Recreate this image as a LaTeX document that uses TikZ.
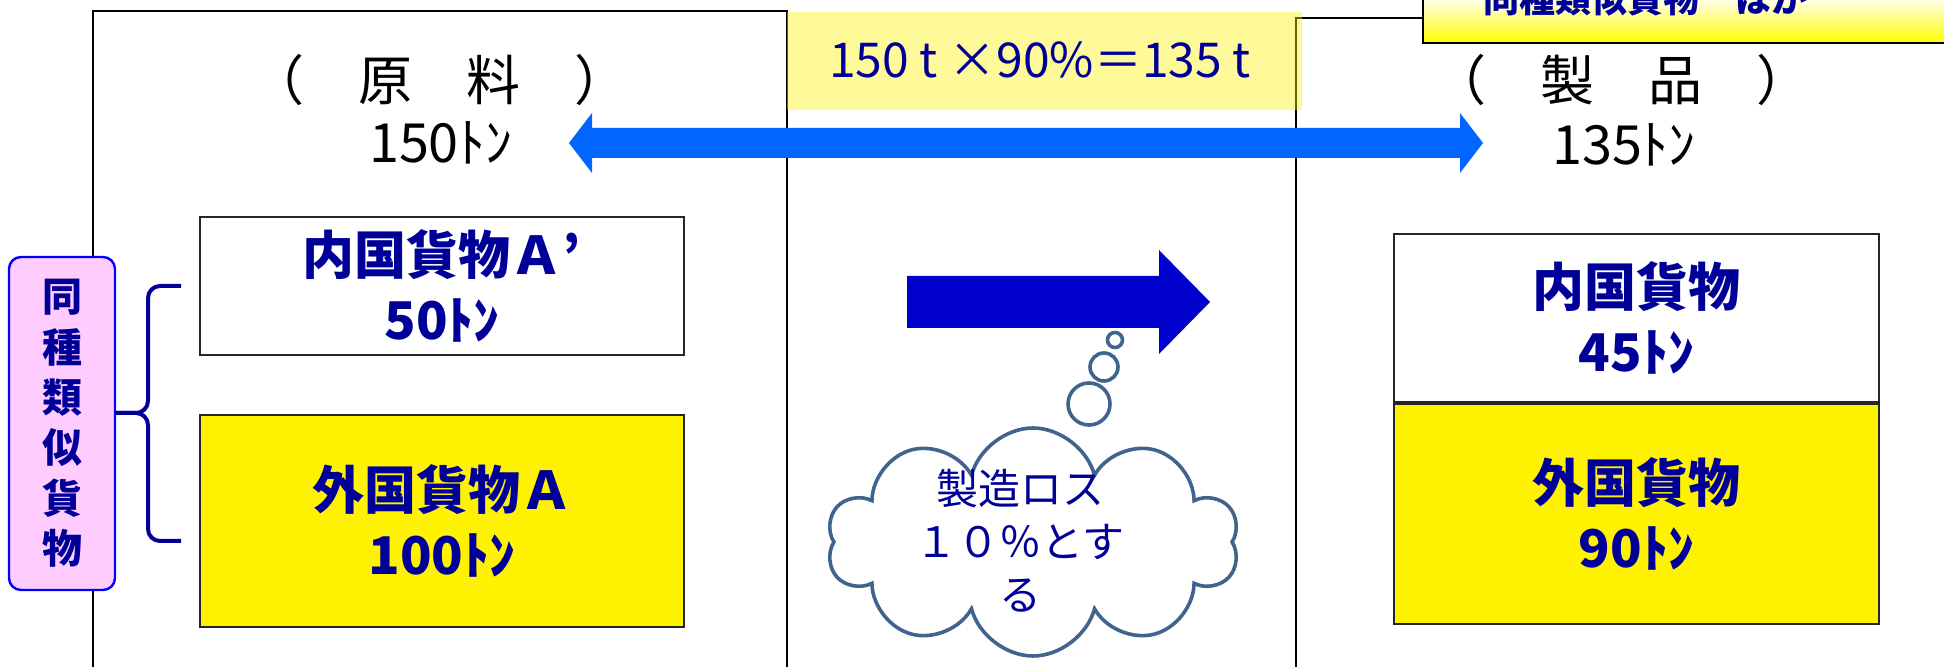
\documentclass[tikz,border=0pt]{standalone}
\usepackage{fontspec}
\setmainfont{Noto Sans CJK JP}
\usetikzlibrary{positioning,shapes.symbols}

\definecolor{navy}{HTML}{000099}
\definecolor{deepblue}{HTML}{0000CC}
\definecolor{skyblue}{HTML}{0066FF}
\definecolor{lilac}{HTML}{FFCCFF}
\definecolor{thinkline}{HTML}{41648F}

\begin{document}
\begin{tikzpicture}[x=0.5pt,y=-0.5pt,
  frame/.style={draw=black, line width=1pt},
  cargo/.style={draw=black!85, line width=1pt, minimum width=242pt, align=center, text=navy, font=\fontsize{26}{32.5}\selectfont\bfseries},
  title/.style={font=\fontsize{27}{32}\selectfont},
  brace/.style={draw=navy, line width=2pt, rounded corners=6pt},
  bubble/.style={draw=thinkline, line width=1.8pt, fill=white}]

\useasboundingbox (0,0) rectangle (1944,667);
\clip (0,0) rectangle (1944,667);

% frames
\draw[frame] (93,700) |- (787,11) -- (787,700);
\draw[frame] (1296,700) |- (1990,18);

% calculation
\fill[yellow, fill opacity=0.4] (787,12) rectangle (1302,110);
\node[text=navy, font=\fontsize{24}{28}\selectfont] (calc) at (1040,60) {150 t ×90\%＝135 t};

% note box (top right)
\draw[frame, top color=white, bottom color=yellow] (1423,-5) rectangle (1990,43);
\node[anchor=base west, inner sep=0pt, text=navy, font=\fontsize{18}{20}\selectfont\bfseries] (note) at (1483,13) {同種類似貨物　ほか};

% titles
\node[title] (rawhd) at (439,80) {（　原　料　）};
\node[title] (rawqty) at (441,143) {150ﾄﾝ};
\node[title] (prodhd) at (1621,80) {（　製　品　）};
\node[title] (prodqty) at (1624,145) {135ﾄﾝ};

% both-way arrow
\fill[skyblue] (569,143) -- (592,113) -- (592,128) -- (1460,128) -- (1460,113) -- (1483,143)
  -- (1460,173) -- (1460,158) -- (592,158) -- (592,173) -- cycle;

% raw material
\node[cargo, fill=white, minimum height=69pt] (domA) at (442,286) {内国貨物Ａ’\\50ﾄﾝ};
\node[cargo, fill=yellow, minimum height=106pt] (forA) [below=29pt of domA] {外国貨物Ａ\\100ﾄﾝ};

% similar goods
\node[draw=blue, fill=lilac, rounded corners=6pt, line width=1.2pt, minimum width=53pt, minimum height=166.5pt,
  align=center, text=navy, font=\fontsize{20}{25.2}\selectfont\bfseries] (sim) at (62,423.5) {同\\種\\類\\似\\貨\\物};
\coordinate (simtip) at (115,413);
\draw[brace] (181,286) -- (148,286) -- (148,413) -- (simtip);
\draw[brace] (181,541) -- (148,541) -- (148,413) -- (simtip);

% process
\fill[deepblue] (907,276) -- (1159,276) -- (1159,250) -- (1210,302) -- (1159,354) -- (1159,328) -- (907,328) -- cycle;
\draw[bubble] (1115,340) circle[radius=3.75pt];
\draw[bubble] (1104,367) circle[radius=7pt];
\draw[bubble] (1089,404) circle[radius=10.5pt];
\node[cloud, cloud puffs=10, aspect=1.8, draw=thinkline, line width=1.8pt, minimum width=206pt, minimum height=114pt] (loss) at (1033,542) {};
\node[align=center, text=navy, font=\fontsize{21}{26.5}\selectfont] (losstxt) at (1020,541) {製造ロス\\１０％とす\\る};

% product
\node[cargo, fill=white, minimum width=242.5pt, minimum height=84pt] (domP) at (1636.5,318) {内国貨物\\45ﾄﾝ};
\node[cargo, fill=yellow, minimum width=242.5pt, minimum height=110pt] (forP) [below=0pt of domP] {外国貨物\\90ﾄﾝ};
\end{tikzpicture}
\end{document}
